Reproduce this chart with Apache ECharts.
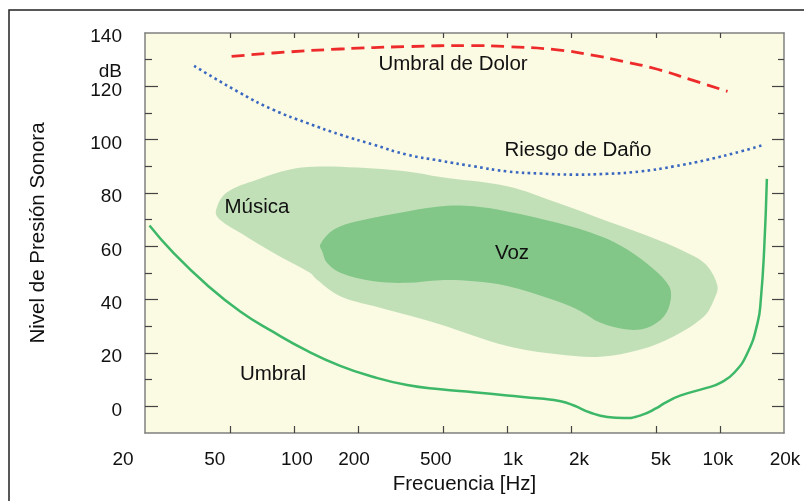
<!DOCTYPE html>
<html>
<head>
<meta charset="utf-8">
<script src="https://cdn.jsdelivr.net/npm/echarts@6/dist/echarts.min.js"></script>
<style>
  html, body { margin: 0; padding: 0; background: #fff; }
  #chart { width: 804px; height: 501px; }
</style>
</head>
<body>
<div id="chart"></div>
<script>
  // tick labels
  const xLabelHz = [20, 50, 100, 200, 500, 1000, 2000, 5000, 10000, 20000]
  const xLabelText = ['20', '50', '100', '200', '500', '1k', '2k', '5k', '10k', '20k']
  const xTickHz = [50, 100, 200, 500, 1000, 2000, 5000, 10000]
  const yLabels = [0, 20, 40, 60, 80, 100, 120, 140]
  const yMajorTicks = [0, 20, 40, 60, 80, 100, 120]
  const yMinorTicks = [10, 30, 50, 70, 90, 110, 130]
  const yUnitAt = 127

  // umbral de audición
  const umbralHz = [21, 27, 39, 56, 80, 115, 165, 237, 340, 488, 699, 1004, 1439, 1788, 2064, 2474, 2963, 3545, 4247, 5091, 5468, 6551, 8746, 10100, 11670, 13490, 15030, 15570, 16140, 16620]
  const umbralDb = [67.8, 57.8, 45.6, 35.6, 27.9, 20.9, 15.2, 11.0, 8.0, 6.4, 5.3, 4.1, 2.9, 1.9, 0.3, -2.4, -4.0, -4.4, -3.4, -0.5, 1.1, 4.1, 7.0, 8.9, 12.6, 20.1, 31.3, 40.1, 58.8, 85.3]

  // umbral de dolor
  const dolorHz = [51, 80, 165, 340, 675, 1004, 1725, 2474, 3545, 5091, 7300, 10860]
  const dolorDb = [131.2, 132.5, 134.0, 134.9, 135.3, 134.9, 133.7, 131.8, 129.3, 126.4, 122.5, 118.1]

  // riesgo de daño
  const riesgoHz = [34, 56, 80, 115, 165, 237, 340, 488, 699, 1004, 1439, 2064, 2963, 4247, 6094, 8746, 12540, 15860]
  const riesgoDb = [127.7, 117.5, 111.2, 106.3, 101.9, 98.1, 94.4, 92.1, 90.0, 88.1, 87.3, 86.9, 87.2, 88.1, 90.0, 92.5, 95.6, 97.9]

  // contorno de la música
  const musicaHz = [43, 48, 67, 96, 124, 165, 340, 488, 1004, 1725, 2963, 5091, 7566, 8746, 9745, 9396, 8434, 6094, 4247, 2755, 1725, 1004, 488, 407, 237, 165, 128, 119, 80, 56, 45]
  const musicaDb = [73.1, 80.0, 85.0, 88.8, 89.8, 89.8, 88.1, 86.0, 82.5, 76.3, 69.4, 62.5, 56.3, 52.5, 45.1, 40.1, 33.8, 26.3, 21.3, 18.6, 19.5, 22.6, 30.7, 32.6, 37.6, 41.3, 47.6, 50.1, 57.6, 65.1, 70.0]

  // contorno de la voz
  const vozHz = [133, 154, 198, 340, 524, 699, 1004, 1725, 2755, 3679, 4908, 5772, 5880, 5468, 4567, 3679, 2755, 2219, 1725, 1004, 699, 488, 340, 237, 165, 143, 136]
  const vozDb = [60.7, 66.3, 69.4, 73.1, 75.2, 75.0, 73.1, 68.8, 63.8, 58.8, 51.3, 45.1, 40.1, 33.8, 29.5, 28.8, 31.3, 35.7, 39.4, 45.1, 46.9, 47.3, 46.3, 46.9, 50.1, 53.8, 58.0]

  const FONT = '"Liberation Sans", Arial, Helvetica, sans-serif'
  const lg = (v) => Math.log10(v)
  const X_MIN = lg(20)
  const X_MAX = lg(20000)
  const toPairs = (hz, db) => hz.map((f, i) => [lg(f), db[i]])

  // the frequency labels sit a little off their ticks in the original
  const xLabelNudge = [-22, -15, 3, -4, -7, 6, 8, 5, -2, 1]
  const xRich = {}
  xLabelNudge.forEach((d, i) => {
    xRich['s' + i] = {
      fontSize: 19,
      color: '#111',
      fontFamily: FONT,
      padding: d < 0 ? [0, -2 * d, 0, 0] : [0, 0, 0, 2 * d]
    }
  })

  const xLabelFormatter = (val) => {
    let best = 0
    xLabelHz.forEach((f, i) => {
      if (Math.abs(lg(f) - val) < Math.abs(lg(xLabelHz[best]) - val)) best = i
    })
    return '{s' + best + '|' + xLabelText[best] + '}'
  }

  // dB labels sit slightly below their ticks too
  const yLabelFormatter = (v) => '{t|' + (v === yUnitAt ? 'dB' : String(v)) + '}'

  const blob = (hz, db, color) => ({
    type: 'custom',
    coordinateSystem: 'cartesian2d',
    silent: true,
    data: [[lg(hz[0]), db[0]]],
    renderItem: (params, api) => ({
      type: 'polygon',
      shape: {
        points: hz.map((f, i) => api.coord([lg(f), db[i]])),
        smooth: 0.35
      },
      style: { fill: color }
    })
  })

  const curve = (hz, db, color, type, width) => ({
    type: 'line',
    data: toPairs(hz, db),
    smooth: 0.5,
    showSymbol: false,
    silent: true,
    lineStyle: { color: color, width: width, type: type, cap: 'butt' }
  })

  const note = (text, x, y) => ({
    type: 'text',
    x: x,
    y: y,
    z: 100,
    silent: true,
    style: { text: text, font: '20.5px ' + FONT, fill: '#111', align: 'center', verticalAlign: 'middle' }
  })

  const axisLineStyle = { color: '#808080', width: 1.5 }
  const tickStyle = { color: '#444', width: 1.2 }

  const myChart = echarts.init(document.getElementById('chart'), null, { renderer: 'canvas' })

  const option = {
    animation: false,
    backgroundColor: '#ffffff',
    textStyle: { fontFamily: FONT },
    grid: {
      left: 145,
      right: 20,
      top: 33,
      bottom: 68,
      show: true,
      backgroundColor: '#FBFAE3',
      borderWidth: 0
    },
    xAxis: [
      {
        type: 'value',
        position: 'bottom',
        min: X_MIN,
        max: X_MAX,
        name: 'Frecuencia [Hz]',
        nameLocation: 'middle',
        nameGap: 41,
        nameTextStyle: { fontSize: 20.5, color: '#111', fontFamily: FONT },
        axisLine: { onZero: false, lineStyle: axisLineStyle },
        axisTick: { inside: true, length: 7, customValues: xTickHz.map(lg), lineStyle: tickStyle },
        axisLabel: {
          margin: 17,
          fontSize: 19,
          color: '#111',
          fontFamily: FONT,
          customValues: xLabelHz.map(lg),
          formatter: xLabelFormatter,
          rich: xRich
        },
        splitLine: { show: false }
      },
      {
        type: 'value',
        position: 'top',
        min: X_MIN,
        max: X_MAX,
        axisLine: { onZero: false, lineStyle: axisLineStyle },
        axisTick: { inside: true, length: 5, customValues: xTickHz.map(lg), lineStyle: tickStyle },
        axisLabel: { show: false },
        splitLine: { show: false }
      }
    ],
    yAxis: [
      {
        type: 'value',
        position: 'left',
        min: -10,
        max: 140,
        name: 'Nivel de Presión Sonora',
        nameLocation: 'middle',
        nameRotate: 90,
        nameGap: 96,
        nameTextStyle: { fontSize: 20.5, color: '#111', fontFamily: FONT },
        axisLine: { onZero: false, lineStyle: axisLineStyle },
        axisTick: { inside: true, length: 13, customValues: yMajorTicks, lineStyle: tickStyle },
        axisLabel: {
          margin: 23,
          fontSize: 19,
          color: '#111',
          fontFamily: FONT,
          customValues: yLabels.concat([yUnitAt]),
          formatter: yLabelFormatter,
          rich: {
            t: { fontSize: 19, color: '#111', fontFamily: FONT, padding: [8, 0, 0, 0] }
          }
        },
        splitLine: { show: false }
      },
      {
        type: 'value',
        position: 'left',
        min: -10,
        max: 140,
        axisLine: { show: false, onZero: false },
        axisTick: { inside: true, length: 7, customValues: yMinorTicks, lineStyle: tickStyle },
        axisLabel: { show: false },
        splitLine: { show: false }
      },
      {
        type: 'value',
        position: 'right',
        min: -10,
        max: 140,
        axisLine: { onZero: false, lineStyle: axisLineStyle },
        axisTick: { inside: true, length: 12, customValues: yMajorTicks, lineStyle: tickStyle },
        axisLabel: { show: false },
        splitLine: { show: false }
      },
      {
        type: 'value',
        position: 'right',
        min: -10,
        max: 140,
        axisLine: { show: false, onZero: false },
        axisTick: { inside: true, length: 6, customValues: yMinorTicks, lineStyle: tickStyle },
        axisLabel: { show: false },
        splitLine: { show: false }
      }
    ],
    series: [
      blob(musicaHz, musicaDb, '#C2E0B8'),
      blob(vozHz, vozDb, '#82C788'),
      curve(umbralHz, umbralDb, '#3DB868', 'solid', 2.5),
      curve(dolorHz, dolorDb, '#EE2B2B', [13, 7], 2.8),
      curve(riesgoHz, riesgoDb, '#3A68C0', [2.6, 3.4], 2.6)
    ],
    graphic: [
      {
        type: 'polyline',
        silent: true,
        shape: { points: [[9, 501], [9, 10], [804, 10]] },
        style: { stroke: '#222', lineWidth: 1.5, fill: null }
      },
      note('Umbral de Dolor', 453, 64),
      note('Riesgo de Daño', 578, 150),
      note('Música', 257, 207),
      note('Voz', 512, 253),
      note('Umbral', 273, 374)
    ]
  }

  option && myChart.setOption(option)
</script>
</body>
</html>
